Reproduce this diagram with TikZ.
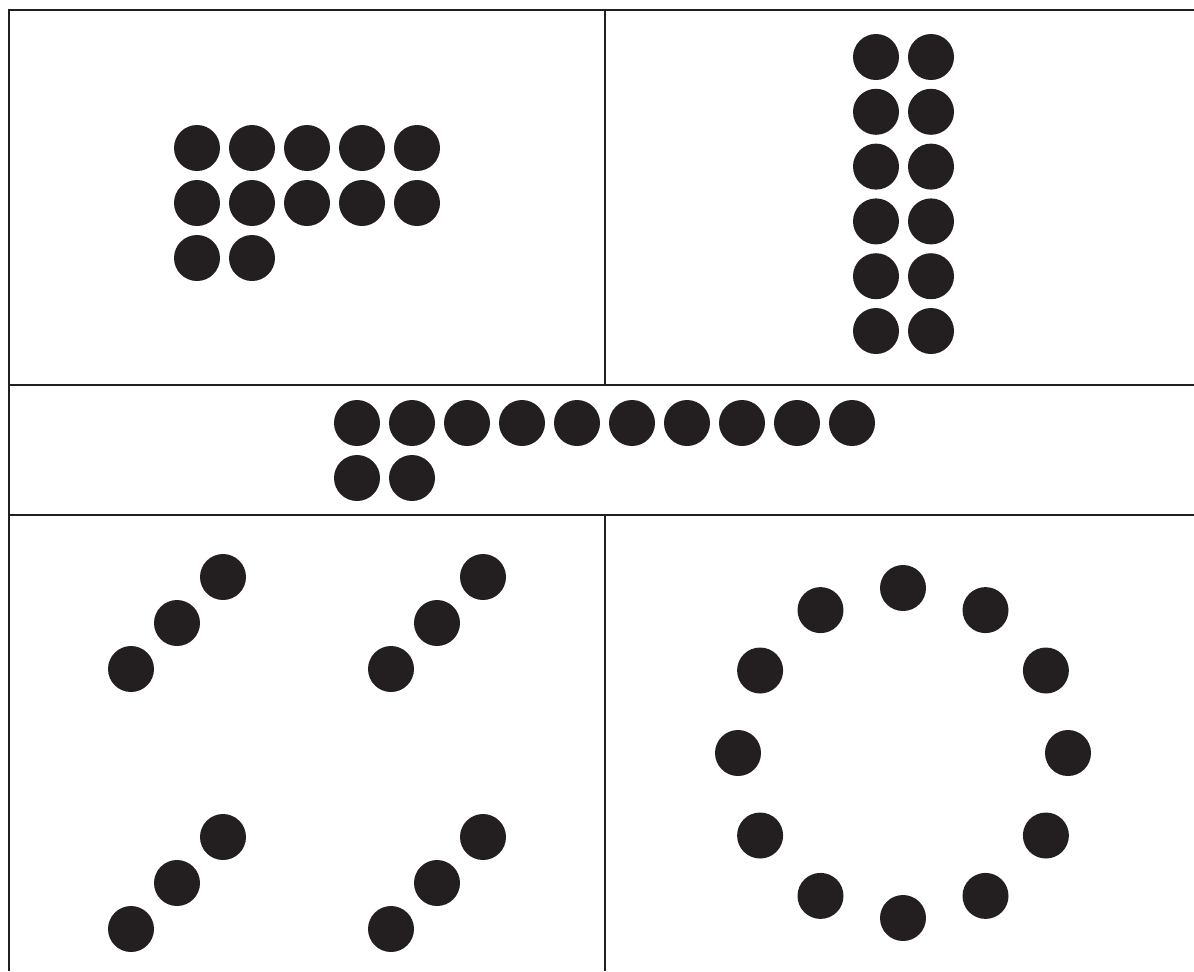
\documentclass[tikz,border=0pt]{standalone}
\usepackage{tikz}
\usetikzlibrary{calc}
\definecolor{ink}{HTML}{231F20}

\begin{document}
\begin{tikzpicture}[
  x=0.5pt, y=-0.5pt,
  dot/.style={circle, fill=ink, draw=none, inner sep=0pt, minimum size=23pt},
  frame/.style={draw=ink, line width=1pt}
  ]
  \useasboundingbox (0,0) rectangle (1194,971);
  % panel frame
  \coordinate (tl) at (8.5,9.5);
  \coordinate (tr) at (1194,9.5);
  \coordinate (bl) at (8.5,971);
  \coordinate (ml) at (8.5,385);
  \coordinate (mr) at (1194,385);
  \coordinate (nl) at (8.5,515);
  \coordinate (nr) at (1194,515);
  \coordinate (vt) at (605,9.5);
  \coordinate (vm) at (605,385);
  \coordinate (vn) at (605,515);
  \coordinate (vb) at (605,971);
  \draw[frame] (bl) -- (tl) -- (tr);
  \draw[frame] (ml) -- (mr);
  \draw[frame] (nl) -- (nr);
  \draw[frame] (vt) -- (vm);
  \draw[frame] (vn) -- (vb);
  % top left: 5 + 5 + 2
  \foreach \i in {0,...,4} {
    \node[dot] (a1\i) at (197+55*\i,148) {};
    \node[dot] (a2\i) at (197+55*\i,203) {};
  }
  \node[dot] (a30) at (197,258) {};
  \node[dot] (a31) at (252,258) {};
  % top right: 6 rows of 2
  \foreach \j in {0,...,5} {
    \node[dot] (b\j l) at (876,57+54.8*\j) {};
    \node[dot] (b\j r) at (931,57+54.8*\j) {};
  }
  % middle strip: 10 + 2
  \foreach \i in {0,...,9}
    \node[dot] (c1\i) at (357+55*\i,423) {};
  \node[dot] (c20) at (357,478) {};
  \node[dot] (c21) at (412,478) {};
  % bottom left: four diagonal triples
  \foreach \dx/\dy [count=\k] in {0/0, 260/0, 0/260, 260/260} {
    \node[dot] (d\k a) at (131+\dx,669+\dy) {};
    \node[dot] (d\k b) at (177+\dx,623+\dy) {};
    \node[dot] (d\k c) at (223+\dx,577+\dy) {};
  }
  % bottom right: ring of 12
  \coordinate (ring) at (903,753);
  \foreach \a [count=\k] in {0,30,...,330}
    \node[dot] (e\k) at ($(ring)+(\a:165)$) {};
\end{tikzpicture}
\end{document}
